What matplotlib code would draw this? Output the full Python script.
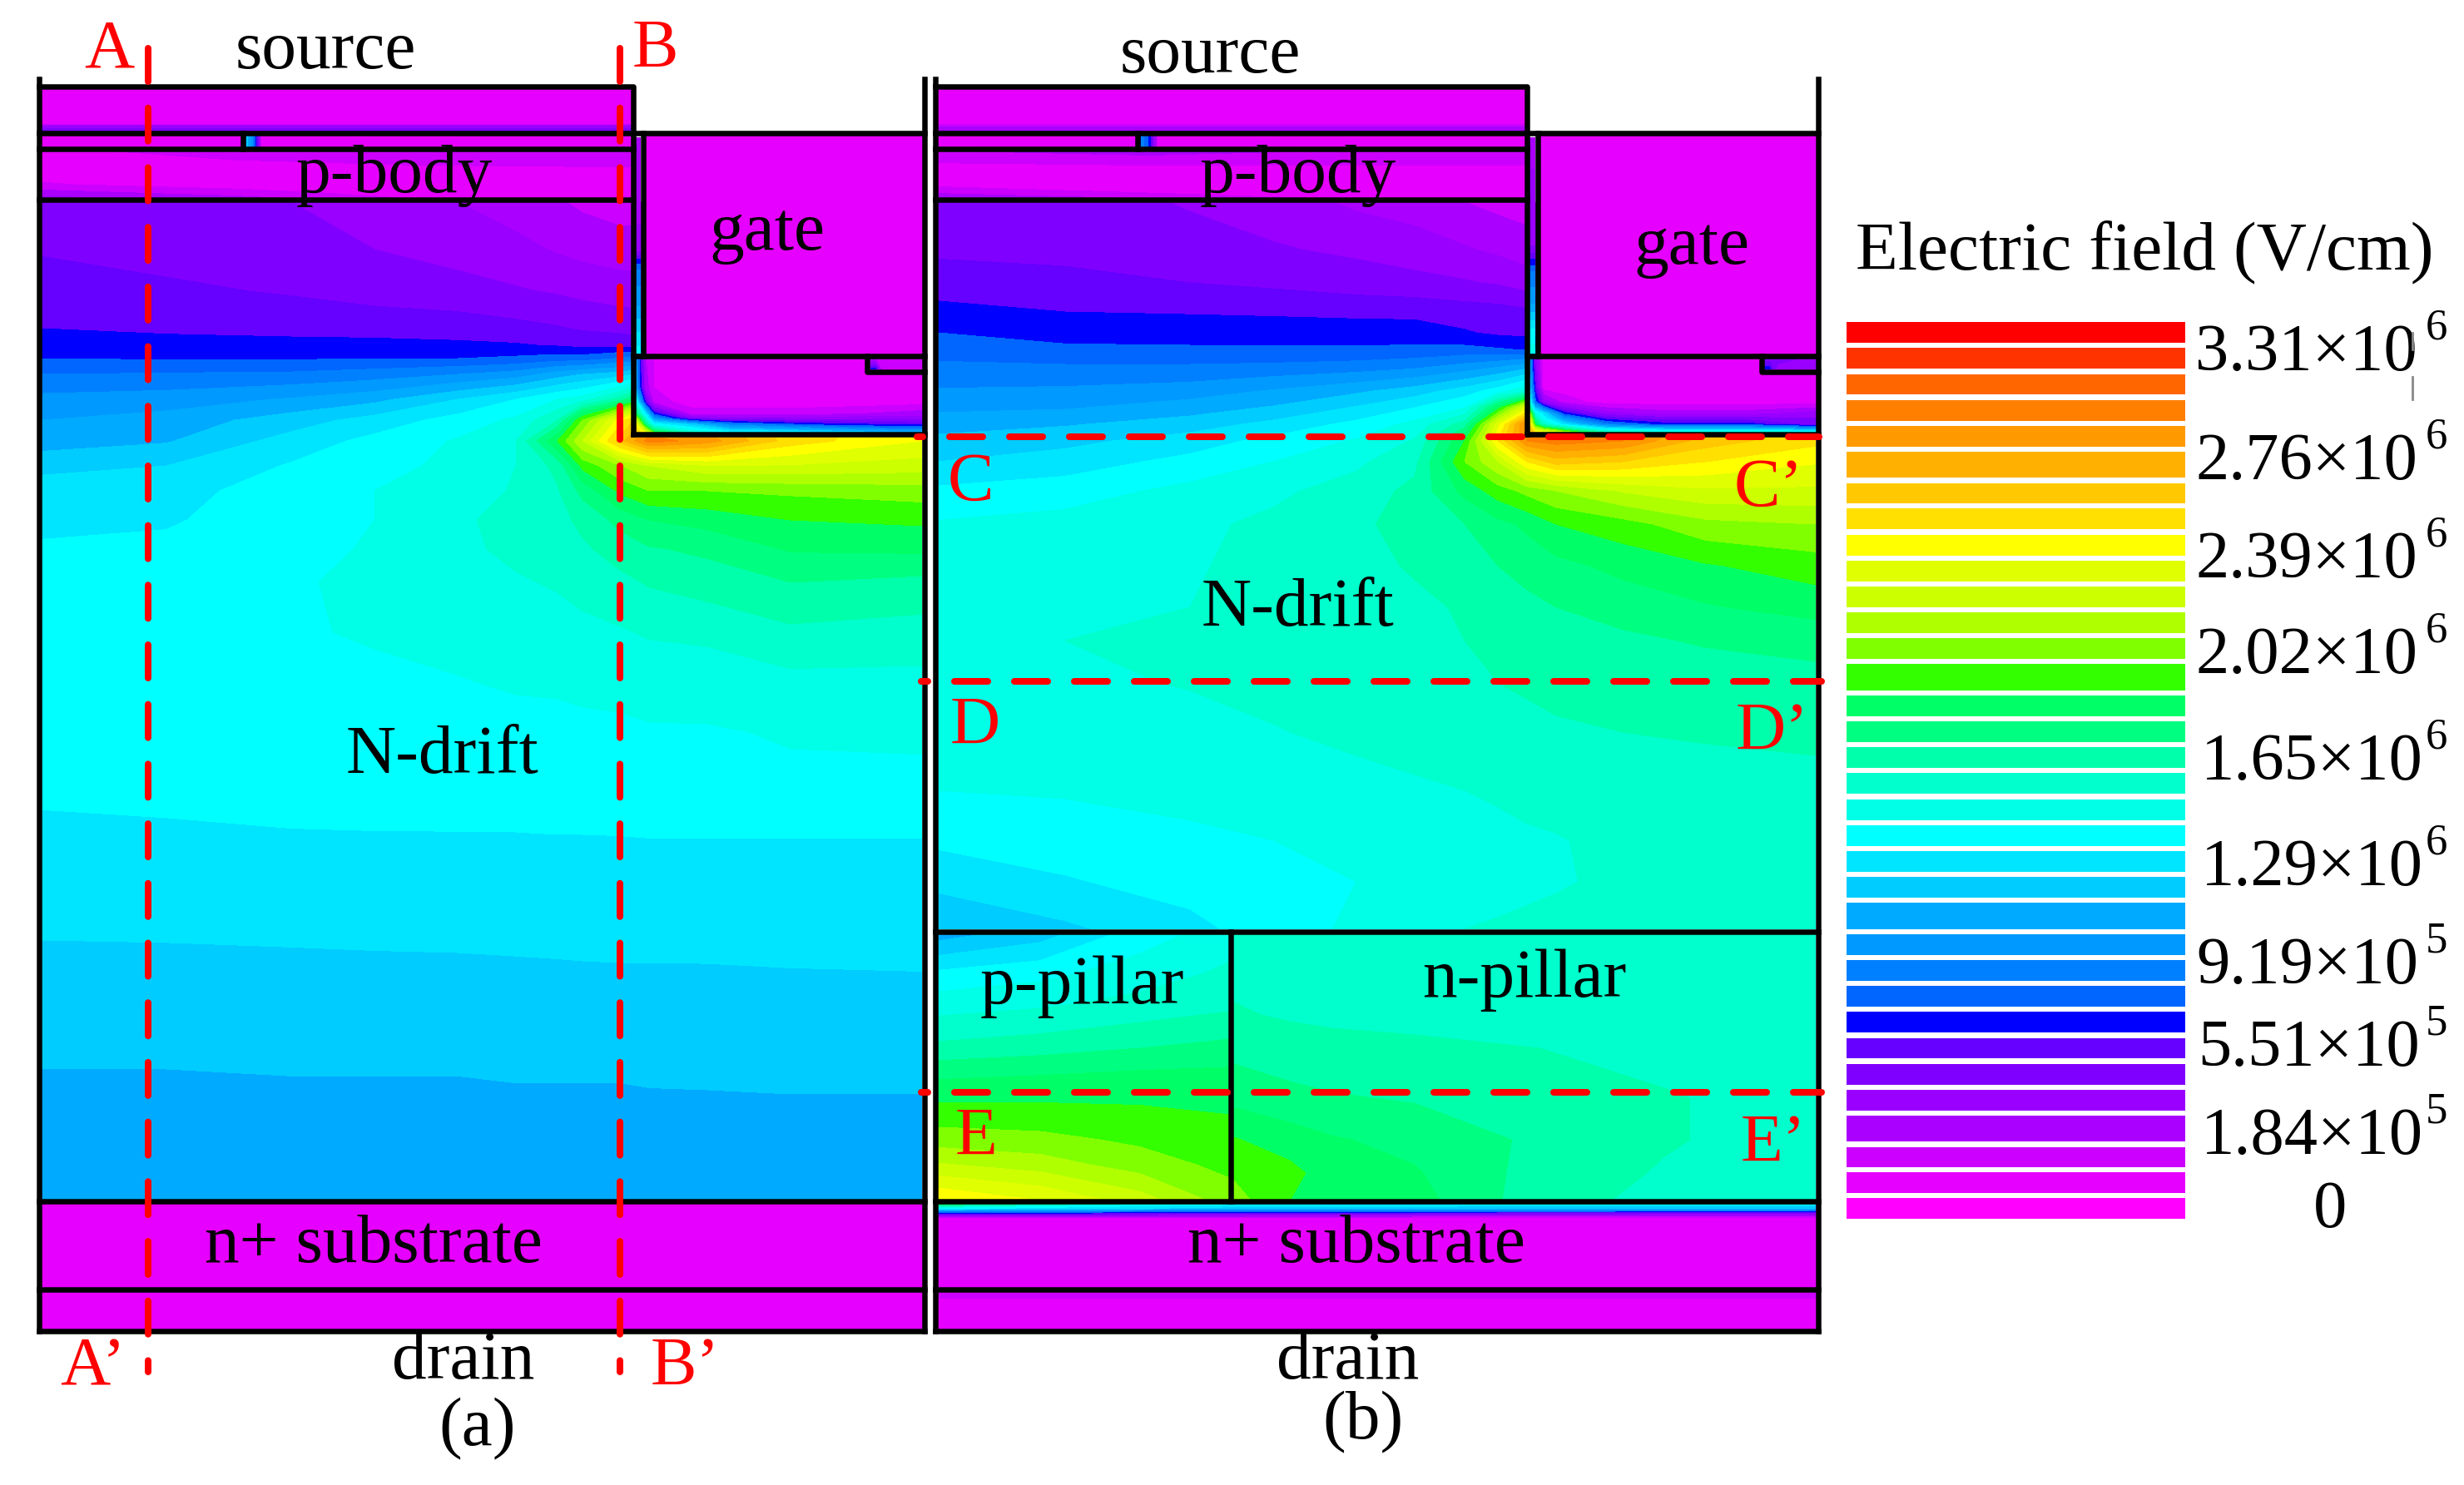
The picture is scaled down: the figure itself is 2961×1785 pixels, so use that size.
import numpy as np
import matplotlib
matplotlib.use("Agg")
import matplotlib.pyplot as plt
from matplotlib.patches import Rectangle

plt.rcParams['font.family'] = ['Liberation Serif', 'DejaVu Serif']
plt.rcParams['lines.scale_dashes'] = False

# ---- colour scale, level 0 (bottom) to level 33 (top)
COLORS = ['#FF00FF','#E600FF','#CC00FF','#AA00FF','#9900FF','#8000FF','#6600FF','#0000FF',
          '#0066FF','#0080FF','#0099FF','#00AAFF','#00CCFF','#00E5FF','#00FFFF','#00FFE6',
          '#00FFCC','#00FFAA','#00FF80','#00FF66','#33FF00','#80FF00','#AFFF00','#CCFF00',
          '#E0FF00','#FFFF00','#FFE000','#FFC800','#FFB000','#FF9900','#FF7F00','#FF6600',
          '#FF3300','#FF0000']
LEVELS = np.arange(-0.5, 34.0, 1.0)
LEGEND_TOPS = [184,223,262,301,340,378,425,463,503,541,580,619,657,696,743,782,820,859,898,937,
               976,1014,1053,1100,1139,1177,1216,1255,1294,1333,1371,1418,1456,1495]
LEGEND_TALL = [5,13,22,30]
LEGEND_LABELS = [('3.31×10','6',2638,445),('2.76×10','6',2638,576),('2.39×10','6',2638,694),
                 ('2.02×10','6',2638,809),('1.65×10','6',2645,937),('1.29×10','6',2645,1064),
                 ('9.19×10','5',2639,1182),('5.51×10','5',2641,1281),('1.84×10','5',2645,1387)]

# ---- panel (a) drift field, in colour-level units
a_x = [50,200,350,450,550,620,670,700,745,780,850,950,1108]
a_y = [243,300,350,395,415,431,450,480,505,530,560,590,625,660,700,760,820,880,960,1000,1130,1205,1285,1360,1444]
a_z = [
 [5,5,4.5,4,3.5,3,2.6,2.3,2,2,2,2,2],
 [5.4,5.1,4.9,4.5,4.1,3.8,3.4,3.2,3,3,3,3,3],
 [6,5.7,5.4,5.1,4.9,4.6,4.4,4.2,4,4,4,4,4],
 [6.5,6.3,6.2,6.1,6,5.8,5.6,5.4,5.2,5,5,5,5],
 [7,6.9,6.8,6.8,6.7,6.6,6.4,6.2,6.2,6,6,6,6],
 [7.5,7.4,7.4,7.5,7.5,7.7,8,8,8.6,9,9,9,9],
 [8.5,8.6,8.7,9,9.5,10,11,11.5,12,13,13,13,13],
 [9.8,10,10.6,11.2,12.5,13.5,14.5,15,17,20,20,20,20],
 [10.5,10.9,12,12.9,13.9,14.7,16.5,20.5,25,28,28,26,25],
 [11,11.4,12.9,13.8,14.6,15.5,19.5,22.5,27,30,29,26,24.5],
 [12.2,12.5,13.6,14.1,14.8,15.5,16.8,19.8,21.4,22.5,23.4,23.4,23],
 [13,13.2,13.9,14.5,15,15.6,16.4,17.8,19.7,20.5,20.5,20.7,21],
 [13.3,13.4,14,14.5,15.3,15.9,16.1,16.8,17.8,18.5,18.9,19.5,19.7],
 [13.6,13.7,14.2,14.6,15.3,15.7,15.9,16.3,17,17.4,17.7,18.6,18.7],
 [13.8,13.9,14.4,14.7,15,15.4,15.6,15.9,16.2,16.6,17,17.5,17.2],
 [13.9,14,14.4,14.6,14.8,15,15.1,15.2,15.4,15.6,15.7,16.3,16.1],
 [14,14,14.2,14.3,14.45,14.6,14.6,14.7,14.8,14.9,15,15.2,15.2],
 [14,14,14.1,14.1,14.1,14.2,14.3,14.3,14.3,14.4,14.4,14.6,14.6],
 [13.6,13.7,13.9,14,14,14,14.1,14.1,14.1,14.1,14.2,14.2,14.3],
 [13.3,13.35,13.45,13.48,13.49,13.5,13.52,13.52,13.53,13.55,13.55,13.55,13.55],
 [12.5,12.52,12.55,12.58,12.6,12.62,12.65,12.65,12.67,12.67,12.68,12.7,12.7],
 [12,12,12.1,12.1,12.1,12.15,12.15,12.2,12.2,12.2,12.2,12.25,12.3],
 [11.5,11.5,11.55,11.55,11.55,11.6,11.6,11.6,11.6,11.65,11.65,11.7,11.7],
 [11.1,11.1,11.1,11.1,11.1,11.15,11.15,11.15,11.15,11.15,11.2,11.2,11.2],
 [10.8,10.8,10.8,10.8,10.8,10.8,10.8,10.8,10.8,10.8,10.8,10.8,10.8],
]

# ---- panel (b) drift field
b_x = [1127,1280,1430,1530,1630,1700,1760,1800,1835,1870,1950,2050,2182]
b_y = [243,300,340,375,400,420,440,470,490,510,530,555,590,630,680,730,770,820,880,950,1010,1060,1117]
b_z = [
 [5,5,4.4,4,3.3,3,2.5,2.2,2,2,2,2,2],
 [5.3,5.2,4.9,4.6,4.3,4,3.6,3.3,3,3,3,3,3],
 [6,5.8,5.5,5.3,5,4.8,4.6,4.4,4,4,4,4,4],
 [6.8,6.5,6.4,6.3,6.2,6.2,6,5.9,5.7,5,5,5,5],
 [7.5,7.3,7.2,7.2,7.1,7,6.6,6.3,6.2,6,6,6,6],
 [8,7.6,7.6,7.6,7.6,7.7,7.8,7.6,7.4,8,8,8,8],
 [8.7,8.6,8.6,8.7,8.9,9.2,9.8,10.3,11,12,12,12,12],
 [9.6,9.7,10,10.6,11.3,12,13,14,15.5,18,18,18,18],
 [10.2,10.4,11,11.6,12.6,13.5,14.5,19,24,28,28,28,26],
 [11.2,11.4,12,12.8,13.8,14.8,17,24,30,30,30,28,26],
 [11.7,12.2,13,13.8,14.6,15.6,19.5,25.5,29.5,30,29.5,27,25.8],
 [12.5,13,13.8,14.5,15.3,16.2,20.5,22.5,25.5,27,26.5,25.5,24.6],
 [13.7,14,14.8,15.3,15.9,16.8,18.8,20,20.8,21.5,22.6,23.3,23.3],
 [14.6,14.9,15.3,15.7,16.3,16.9,17.5,18.2,18.7,19.5,20.1,21.2,21.5],
 [15,15.2,15.4,15.8,16.2,16.6,17,17.5,17.9,18.2,18.8,19.4,20],
 [15.2,15.3,15.5,15.7,16,16.3,16.6,16.9,17.2,17.5,17.9,18.4,18.9],
 [15.3,15.5,15.7,15.9,16.1,16.3,16.5,16.7,16.9,17,17.3,17.6,17.8],
 [15.2,15.35,15.55,15.75,16,16.2,16.4,16.5,16.6,16.7,16.8,17,17.2],
 [15,15.1,15.25,15.45,15.7,15.9,16.1,16.2,16.3,16.4,16.5,16.6,16.7],
 [14.5,14.6,14.8,15,15.2,15.35,15.5,15.6,15.7,15.8,16,16.1,16.2],
 [13.7,14,14.3,14.5,14.8,15,15.2,15.3,15.4,15.45,15.7,15.9,16.1],
 [12.8,13.4,13.9,14.2,14.5,14.8,15,15.2,15.3,15.4,15.7,15.9,16],
 [11.5,12.3,13.2,14,14.7,15,15.5,15.6,15.7,15.8,15.9,16,16],
]

# ---- panel (b) pillars
pp_x = [1127,1250,1370,1478]
pp_y = [1122,1170,1206,1252,1300,1340,1370,1400,1443]
pp_z = [[11,12,14,15],[13.7,14.2,15,15.7],[15,15.3,15.8,16.2],[16.5,16.8,17.2,17.6],
        [18.6,18.8,19,19],[20,19.9,19.7,19.5],[21,20.8,20.3,19.9],[22.6,22,21,20.2],[25.5,24.5,23,21]]
np_x = [1480,1550,1600,1700,1850,2000,2182]
np_y = [1122,1220,1260,1320,1370,1410,1443]
np_z = [[16,16,16,16,16,16,16],[16.6,16.4,16.3,16.2,16,16,16],[17.2,16.9,16.8,16.7,16.5,16.1,16],
        [18.2,17.8,17.6,17.4,17,16.6,16],[19.6,19,18.6,18.2,17.3,16.6,16],
        [20.4,19.8,19,18.6,17.1,16.4,16],[21,19.5,19.2,18.9,16.9,16.2,16]]

# ---- region under the gate (L-shaped box)
abox_x = [764,776,786,830,876,979,1109]
bbox_x = [1838,1845,1855,1880,1930,2000,2100,2183]
box_y = [430,466,483,497,503,510,520]
abox_z = [[10,2.5,1.5,1,1,1,1],[10.5,3,1.5,1,1,1,1],[14.5,6,2,1,1,1,1],[19,13,7,2,2,2,3],
          [22,15.5,10,5,4,4,4],[25,18,14,12,9,7,6],[27,24,20,16,14,13,11]]
bbox_z = [[10,4,1,1,1,1,1,1],[12,6,1,1,1,1,1,1],[15,8,4,2,1,1,1,1],[22,15,13,7,4,3,3,4],
          [24,17,14,10,6,5,5,4.5],[26,19,16,13,9,7,7,5],[28,26,25,22,17,16,16,15]]

# ---- thin strips and layers
astrip_y = [165,240,300,313,327,360,390,425]
astrip_z = [3,3,4,7,9,10,12,14]
bstrip_y = [165,240,290,300,315,330,360,400,425]
bstrip_z = [3,4,4,5,7,9,10,14,15]
src_y = [106,148,152,158]
asrc_z = [1,1,4,5.4]
bsrc_z = [1,1,2.5,3.4]
mark_a_x = [50,294,296,303,309,314,759]
mark_a_z = [1,1,12,10,6,1,1]
mark_b_x = [1127,1369,1371,1378,1384,1392,1833]
mark_b_z = [1,1,9,8,6,1,1]
body_y = [181,192,205,222,232,239]
abody_x = [50,280,500,759]
abody_z = [[1,2.5,2,2],[1,1.5,2,2.5],[1,1,1,1],[1.6,1,1,1],[3,2,1,1],[4,3,1.5,1]]
bbody_x = [1127,1380,1600,1833]
bbody_z = [[2.5,3,2.5,2.5],[1.7,2,2,2],[1,1,1,1],[1.2,1,1,1],[2.4,1.5,1,1],[3.5,2.5,1.5,1]]
subst_x = [1127,1500,1700,2182]
subst_y = [1446,1452,1458,1464]
subst_z = [[20,14,13.6,13],[14,12,12,12],[7,6,5.5,5],[1,1,1,1]]
foot_y = [1553,1565]
foot_z = [2.4,1]

# ---- geometry of the device outlines (pixels of the picture)
A_LEFT, A_RIGHT, B_LEFT, B_RIGHT = 47, 1111, 1124, 2185
A_SRC, B_SRC, A_GATE, B_GATE = 761, 1835, 773, 1848
A_STEP, B_STEP = 1042, 2117
A_TAP, B_TAP = 292, 1367
PILLAR_X, PILLAR_Y = 1479, 1120
Y_TOP, Y_SRC_TOP, Y_SRC_BOT, Y_CONT, Y_BODY = 95, 104, 160, 179, 240
Y_GATE_BOT, Y_STEP, Y_OX, Y_SUB, Y_SUB2, Y_BOT = 428, 447, 522, 1444, 1550, 1600

fig = plt.figure(figsize=(29.61, 17.85), dpi=100)
ax = fig.add_axes([0, 0, 1, 1])
ax.set_xlim(0, 2961)
ax.set_ylim(1785, 0)
ax.axis('off')


def field(x, y, z, zorder=1):
    ax.contourf(x, y, np.array(z, dtype=float), levels=LEVELS, colors=COLORS,
                antialiased=False, zorder=zorder)


def block(x0, y0, x1, y1, zorder=2):
    ax.add_patch(Rectangle((x0, y0), x1 - x0, y1 - y0, fc=COLORS[1], ec='none', zorder=zorder))


# fields
field(a_x, a_y, a_z)
field(b_x, b_y, b_z)
field(pp_x, pp_y, pp_z)
field(np_x, np_y, np_z)

# solid regions
block(A_GATE, Y_SRC_BOT, A_RIGHT, Y_GATE_BOT)
block(B_GATE, Y_SRC_BOT, B_RIGHT, Y_GATE_BOT)
block(A_LEFT, Y_SUB, A_RIGHT, Y_BOT)
block(B_LEFT, Y_SUB, B_RIGHT, Y_BOT)

field(abox_x, box_y, abox_z, 3)
field(bbox_x, box_y, bbox_z, 3)
field([764, 770], astrip_y, np.column_stack([astrip_z, astrip_z]), 3)
field([1838, 1845], bstrip_y, np.column_stack([bstrip_z, bstrip_z]), 3)
field([50, 759], src_y, np.column_stack([asrc_z, asrc_z]), 3)
field([1127, 1833], src_y, np.column_stack([bsrc_z, bsrc_z]), 3)
field(mark_a_x, [162, 178], [mark_a_z, mark_a_z], 3)
field(mark_b_x, [162, 178], [mark_b_z, mark_b_z], 3)
field(abody_x, body_y, abody_z, 3)
field(bbody_x, body_y, bbody_z, 3)
field([1046, 1052, 1060, 1109], [431, 444], [[2, 2, 2, 2], [7, 7, 2, 2]], 3)
field([2120, 2126, 2136, 2183], [431, 444], [[5, 5, 5, 4], [7, 7, 4, 3.5]], 3)
field(subst_x, subst_y, subst_z, 3)
field([1127, 2182], foot_y, np.column_stack([foot_z, foot_z]), 3)

# black outlines
LW = 6.5 * 0.72
kw = dict(color='black', lw=LW, zorder=5, solid_capstyle='projecting')
for xl, xr, xs, xg, xst, xt in [(A_LEFT, A_RIGHT, A_SRC, A_GATE, A_STEP, A_TAP),
                                (B_LEFT, B_RIGHT, B_SRC, B_GATE, B_STEP, B_TAP)]:
    ax.plot([xl, xl], [Y_TOP, Y_BOT], **kw)
    ax.plot([xr, xr], [Y_TOP, Y_BOT], **kw)
    ax.plot([xl, xs, xs], [Y_SRC_TOP, Y_SRC_TOP, Y_OX], **kw)
    ax.plot([xl, xr], [Y_SRC_BOT, Y_SRC_BOT], **kw)
    ax.plot([xl, xs], [Y_CONT, Y_CONT], **kw)
    ax.plot([xl, xs], [Y_BODY, Y_BODY], **kw)
    ax.plot([xg, xg], [Y_SRC_BOT, Y_GATE_BOT], **kw)
    ax.plot([xs, xr], [Y_GATE_BOT, Y_GATE_BOT], **kw)
    ax.plot([xst, xst, xr], [Y_GATE_BOT, Y_STEP, Y_STEP], **kw)
    ax.plot([xs, xr], [Y_OX, Y_OX], **kw)
    ax.plot([xt, xt], [Y_SRC_BOT, Y_CONT], **kw)
    ax.plot([xl, xr], [Y_SUB, Y_SUB], **kw)
    ax.plot([xl, xr], [Y_SUB2, Y_SUB2], **kw)
    ax.plot([xl, xr], [Y_BOT, Y_BOT], **kw)
ax.plot([B_LEFT, B_RIGHT], [PILLAR_Y, PILLAR_Y], **kw)
ax.plot([PILLAR_X, PILLAR_X], [PILLAR_Y, Y_SUB], **kw)

# red cut lines
RLW = 8 * 0.72


def cut(xs, ys, period, offset_px):
    on = (48 - 8) * 0.72
    off = (period - 40) * 0.72
    ax.plot(xs, ys, color='#FF0000', lw=RLW, zorder=6, dash_capstyle='round',
            linestyle=(offset_px * 0.72, (on, off)))


cut([178, 178], [58, 1649], 71.7, 0)
cut([745, 745], [58, 1649], 71.7, 0)
cut([1102, 2186], [525, 525], 72, 33)
cut([1107, 2189], [819, 819], 72, 32)
cut([1107, 2189], [1313, 1313], 72, 32)

# black labels
FS = 60
black = [('source', 391, 82), ('source', 1454, 87), ('p-body', 474, 231), ('p-body', 1560, 231),
         ('gate', 922, 300), ('gate', 2033, 317), ('N-drift', 532, 929), ('N-drift', 1560, 752),
         ('n+ substrate', 449, 1517), ('n+ substrate', 1630, 1517), ('drain', 557, 1657),
         ('drain', 1620, 1657), ('(a)', 574, 1737), ('(b)', 1638, 1729),
         ('p-pillar', 1300, 1206), ('n-pillar', 1832, 1198)]
for s, x, y in black:
    ax.text(x, y, s, fontsize=FS, ha='center', va='baseline', color='black', zorder=7)

red = [('A', 101, 80), ('B', 760, 80), ('A’', 72, 1664), ('B’', 782, 1664), ('C', 1139, 601),
       ('C’', 2084, 608), ('D', 1142, 894), ('D’', 2086, 901), ('E', 1148, 1388), ('E’', 2092, 1396)]
for s, x, y in red:
    ax.text(x, y, s, fontsize=FS, ha='left', va='baseline', color='#FF0000', zorder=7)

# legend
ax.text(2230, 323, 'Electric field (V/cm)', fontsize=FS, ha='left', va='baseline', zorder=7)
legend_colors = COLORS[::-1]
for i, top in enumerate(LEGEND_TOPS):
    h = 39 if i in LEGEND_TALL else 31
    ax.add_patch(Rectangle((2219, 240 + top / 1.2444 - 1), 407, h / 1.2444,
                           fc=legend_colors[i], ec='none', zorder=2))
for s, e, x, y in LEGEND_LABELS:
    ax.text(x, y, s, fontsize=58, ha='left', va='baseline', zorder=7)
    ax.text(2915, y - 38, e, fontsize=38, ha='left', va='baseline', zorder=7)
ax.text(2800, 1475, '0', fontsize=58, ha='center', va='baseline', zorder=7)
ax.plot([2899, 2899], [400, 420], color='#888888', lw=2, zorder=7)
ax.plot([2899, 2899], [453, 480], color='#888888', lw=2, zorder=7)

fig.savefig('out.png', dpi=100, facecolor='white')
